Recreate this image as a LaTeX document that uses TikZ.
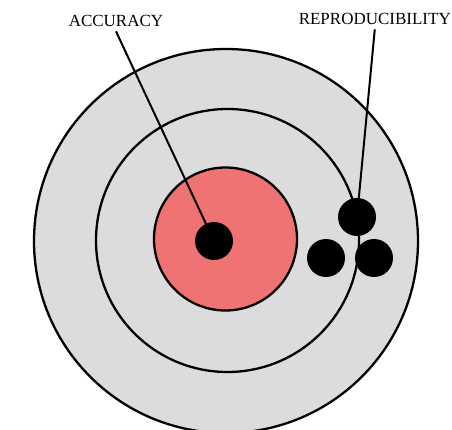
\documentclass[tikz,border=0pt]{standalone}
\usepackage{fontspec}
\setmainfont{Liberation Serif}
\definecolor{boardgray}{RGB}{220,220,220}
\definecolor{bullred}{RGB}{240,115,115}

\begin{document}
\begin{tikzpicture}[x=1pt, y=-1pt,
  ring/.style={circle, draw=black, line width=2.3pt, inner sep=0pt},
  shot/.style={circle, fill=black, minimum size=38pt, inner sep=0pt},
  lbl/.style={font=\fontsize{17}{20}\selectfont, inner sep=4pt}]

\useasboundingbox (0,0) rectangle (452,430);

% --- Target rings ---
\node[ring, fill=boardgray, minimum size=384pt] (outer) at (226, 241) {};
\node[ring, minimum size=263pt] (middle) at (227.5, 240.5) {};
\node[ring, fill=bullred, minimum size=143pt] (bull) at (225.5, 239) {};

% --- Shots ---
\node[shot] (hit) at (214, 241) {};
\node[shot] (s1) at (357, 217) {};
\node[shot] (s2) at (326, 258) {};
\node[shot] (s3) at (374, 258) {};

% --- Labels ---
\node[lbl, anchor=base] (acc) at (116, 27) {ACCURACY};
\node[lbl, anchor=base east, inner xsep=0pt] (rep) at (451, 25)
  {REPRODUCIBILITY};

% --- Leader lines ---
\draw[line width=2pt] (acc.south) -- (hit);
\draw[line width=2pt] (rep.south) -- (s1);

\end{tikzpicture}
\end{document}
